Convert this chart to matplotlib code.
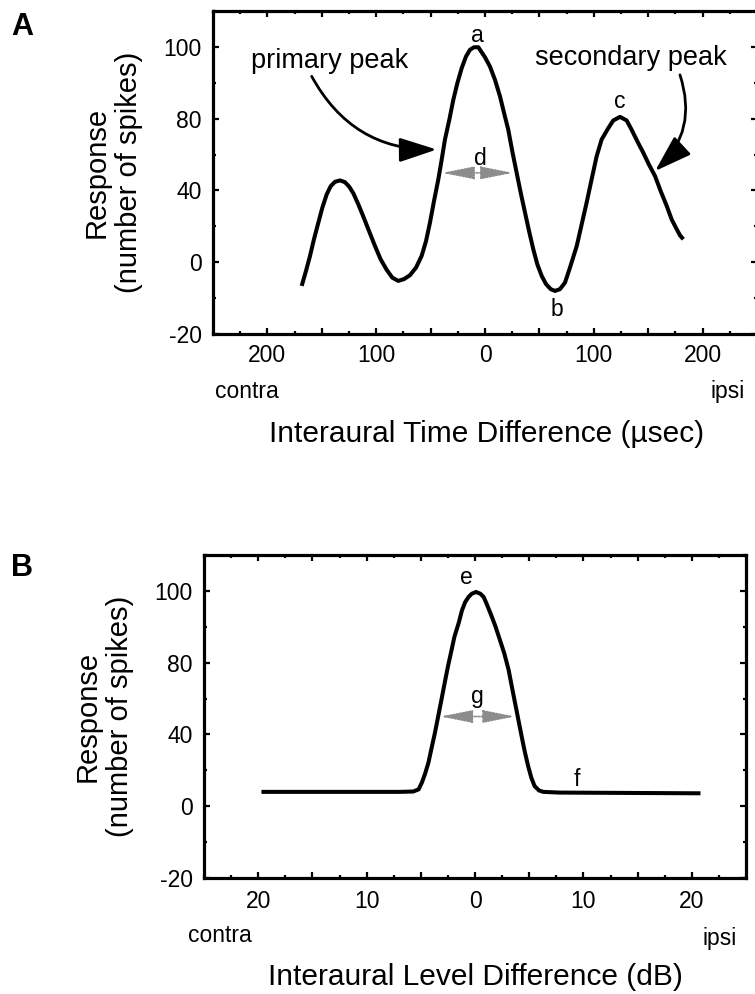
import numpy as np
import matplotlib.pyplot as plt
from matplotlib.ticker import FixedLocator, FixedFormatter, MultipleLocator

plt.rcParams['font.family'] = ['Liberation Sans', 'DejaVu Sans']

W, H = 755, 994

# response axis: ticks evenly spaced, labelled the way the original figure labels them
ytick_pos = [-20, 0, 20, 40, 60]
ytick_labels = ['-20', '0', '40', '80', '100']

# panel A - ITD tuning curve
itd = [-168.5, -164.5, -160.8, -157.2, -153.2, -149.5, -145.5, -141.8, -137.9, -133.3,
       -128.7, -124.7, -121.0, -116.4, -111.8, -106.6, -101.1, -95.9, -90.4, -85.2,
       -79.7, -74.4, -68.9, -63.4, -58.2, -54.2, -50.6, -46.9, -42.9, -39.8,
       -36.8, -32.8, -29.1, -25.4, -21.4, -17.5, -13.8, -10.1, -6.1, -4.6,
       0.0, 4.6, 9.2, 13.8, 17.5, 21.4, 25.1, 29.1, 32.8, 36.8,
       40.7, 44.4, 48.1, 52.1, 56.1, 60.4, 64.3, 68.9, 73.5, 78.1,
       84.3, 88.9, 93.4, 98.0, 102.6, 107.2, 113.4, 117.9, 124.1, 130.2,
       134.8, 140.0, 145.5, 150.7, 156.3, 161.5, 167.0, 171.6, 176.2, 179.2,
       182.3]
itd_resp = [-6.6, -2.4, 1.8, 6.4, 11.0, 15.2, 18.9, 21.2, 22.4, 22.8,
            22.3, 21.0, 19.2, 16.1, 12.7, 8.7, 4.5, 0.8, -2.1, -4.3,
            -5.2, -4.7, -3.6, -1.5, 1.8, 5.9, 11.0, 17.0, 23.1, 28.6,
            34.2, 39.7, 45.3, 49.9, 54.1, 57.3, 59.2, 59.9, 59.9, 59.2,
            57.1, 54.5, 50.8, 46.2, 41.6, 36.9, 30.9, 24.9, 19.4, 13.8,
            8.4, 3.6, -0.6, -3.8, -6.1, -7.5, -8.0, -7.5, -5.7, -1.5,
            4.5, 10.6, 16.6, 23.1, 29.5, 34.2, 37.4, 39.5, 40.5, 39.5,
            36.9, 33.7, 30.5, 27.2, 24.0, 19.8, 15.7, 11.9, 9.2, 7.5,
            6.4]
itd_ticks = [-200, -150, -100, -50, 0, 50, 100, 150, 200]
itd_ticklabels = ['200', '', '100', '', '0', '', '100', '', '200']

# panel B - ILD tuning curve
ild = [-19.7, -6.9, -5.7, -5.2, -4.9, -4.6, -4.3, -4.0, -3.7, -3.4, -3.1,
       -2.8, -2.5, -2.2, -1.9, -1.5, -1.2, -0.9, -0.6, -0.3, 0.1,
       0.5, 0.8, 1.1, 1.5, 1.9, 2.3, 2.7, 3.1, 3.4, 3.7,
       4.0, 4.3, 4.6, 4.9, 5.2, 5.5, 5.9, 6.3, 7.8, 20.8]
ild_resp = [4.0, 4.0, 4.1, 4.7, 6.6, 9.1, 12.1, 16.3, 20.4, 25.0, 29.6,
            34.3, 38.9, 43.0, 47.2, 51.1, 54.6, 56.9, 58.3, 59.2, 59.7,
            59.2, 58.3, 56.2, 53.2, 50.0, 46.3, 42.6, 38.0, 33.3, 28.7,
            24.1, 19.5, 15.1, 11.2, 7.9, 5.6, 4.4, 4.0, 3.8, 3.6]
ild_ticks = [-20, -15, -10, -5, 0, 5, 10, 15, 20]
ild_ticklabels = ['20', '', '10', '', '0', '', '10', '', '20']


def px(x, y):
    return x / W, 1 - y / H


def style_axes(ax, ticks, ticklabels, minor, pad_x):
    ax.set_ylim(-20, 70)
    ax.yaxis.set_major_locator(FixedLocator(ytick_pos))
    ax.yaxis.set_major_formatter(FixedFormatter(ytick_labels))
    ax.yaxis.set_minor_locator(MultipleLocator(10))
    ax.xaxis.set_major_locator(FixedLocator(ticks))
    ax.xaxis.set_major_formatter(FixedFormatter(ticklabels))
    ax.xaxis.set_minor_locator(MultipleLocator(minor))
    ax.tick_params(which='both', direction='in', top=True, right=True,
                   width=1.6, labelsize=16.5)
    ax.tick_params(which='major', length=4.5)
    ax.tick_params(which='minor', length=2.5)
    ax.tick_params(axis='y', pad=8)
    ax.tick_params(axis='x', pad=pad_x)
    for s in ax.spines.values():
        s.set_linewidth(2.3)


def double_arrow(ax, x0, x1, y):
    ax.annotate('', xy=(x1, y), xytext=(x0, y),
                arrowprops=dict(arrowstyle='<|-|>,head_length=2.0,head_width=0.4',
                                mutation_scale=10, color='0.55', lw=1.2,
                                ls=(0, (1, 1)), shrinkA=0, shrinkB=0))


def curved_arrow(ax, start, tip, rad):
    ax.annotate('', xy=tip, xytext=start,
                arrowprops=dict(arrowstyle='-|>,head_length=2.3,head_width=0.75',
                                mutation_scale=10, color='k', lw=2.0,
                                connectionstyle='arc3,rad=%s' % rad,
                                shrinkA=0, shrinkB=0))


fig = plt.figure(figsize=(W / 100, H / 100), dpi=100)

# ---- panel A
axA = fig.add_axes([213 / W, 1 - 334 / H, 544 / W, 323 / H])
axA.plot(itd, itd_resp, color='k', lw=2.9, solid_joinstyle='round', solid_capstyle='butt')
axA.set_xlim(-250, 250)
style_axes(axA, itd_ticks, itd_ticklabels, 25, 7)

double_arrow(axA, -39.5, 25.7, 24.9)
curved_arrow(axA, (-159.3, 51.8), (-44.4, 31.4), 0.3)
curved_arrow(axA, (179.2, 52.2), (156.3, 25.4), -0.32)

axA.text(-142.5, 54.2, 'primary peak', fontsize=19.5, ha='center', va='baseline')
axA.text(134.2, 55.0, 'secondary peak', fontsize=19.5, ha='center', va='baseline')
for lab, x, y in [('a', -7.4, 61.5), ('b', 65.9, -14.9), ('c', 124.0, 43.0), ('d', -4.6, 27.2)]:
    axA.text(x, y, lab, fontsize=16.5, ha='center', va='baseline')

fig.text(*px(113, 172), 'Response\n(number of spikes)', rotation=90, fontsize=21,
         ha='center', va='center', multialignment='center')
fig.text(*px(247, 392), 'contra', fontsize=16.5, ha='center', va='center')
fig.text(*px(728, 392), 'ipsi', fontsize=16.5, ha='center', va='center')
fig.text(*px(487, 434), 'Interaural Time Difference (\u00b5sec)', fontsize=21.5,
         ha='center', va='center')
fig.text(*px(22, 27), 'A', fontsize=22, fontweight='heavy', ha='center', va='center')

# ---- panel B
axB = fig.add_axes([204 / W, 1 - 878 / H, 542 / W, 323 / H])
axB.plot(ild, ild_resp, color='k', lw=2.9, solid_joinstyle='round', solid_capstyle='butt')
axB.set_xlim(-25, 25)
style_axes(axB, ild_ticks, ild_ticklabels, 2.5, 9)

double_arrow(axB, -3.2, 3.7, 25.0)
for lab, x, y in [('e', -0.8, 62.0), ('f', 9.4, 5.6), ('g', 0.2, 28.7)]:
    axB.text(x, y, lab, fontsize=16.5, ha='center', va='baseline')

fig.text(*px(104, 716), 'Response\n(number of spikes)', rotation=90, fontsize=21,
         ha='center', va='center', multialignment='center')
fig.text(*px(220, 935), 'contra', fontsize=16.5, ha='center', va='center')
fig.text(*px(720, 938), 'ipsi', fontsize=16.5, ha='center', va='center')
fig.text(*px(475, 977), 'Interaural Level Difference (dB)', fontsize=21.5,
         ha='center', va='center')
fig.text(*px(22, 568), 'B', fontsize=22, fontweight='heavy', ha='center', va='center')

fig.savefig('out.png', dpi=100)
